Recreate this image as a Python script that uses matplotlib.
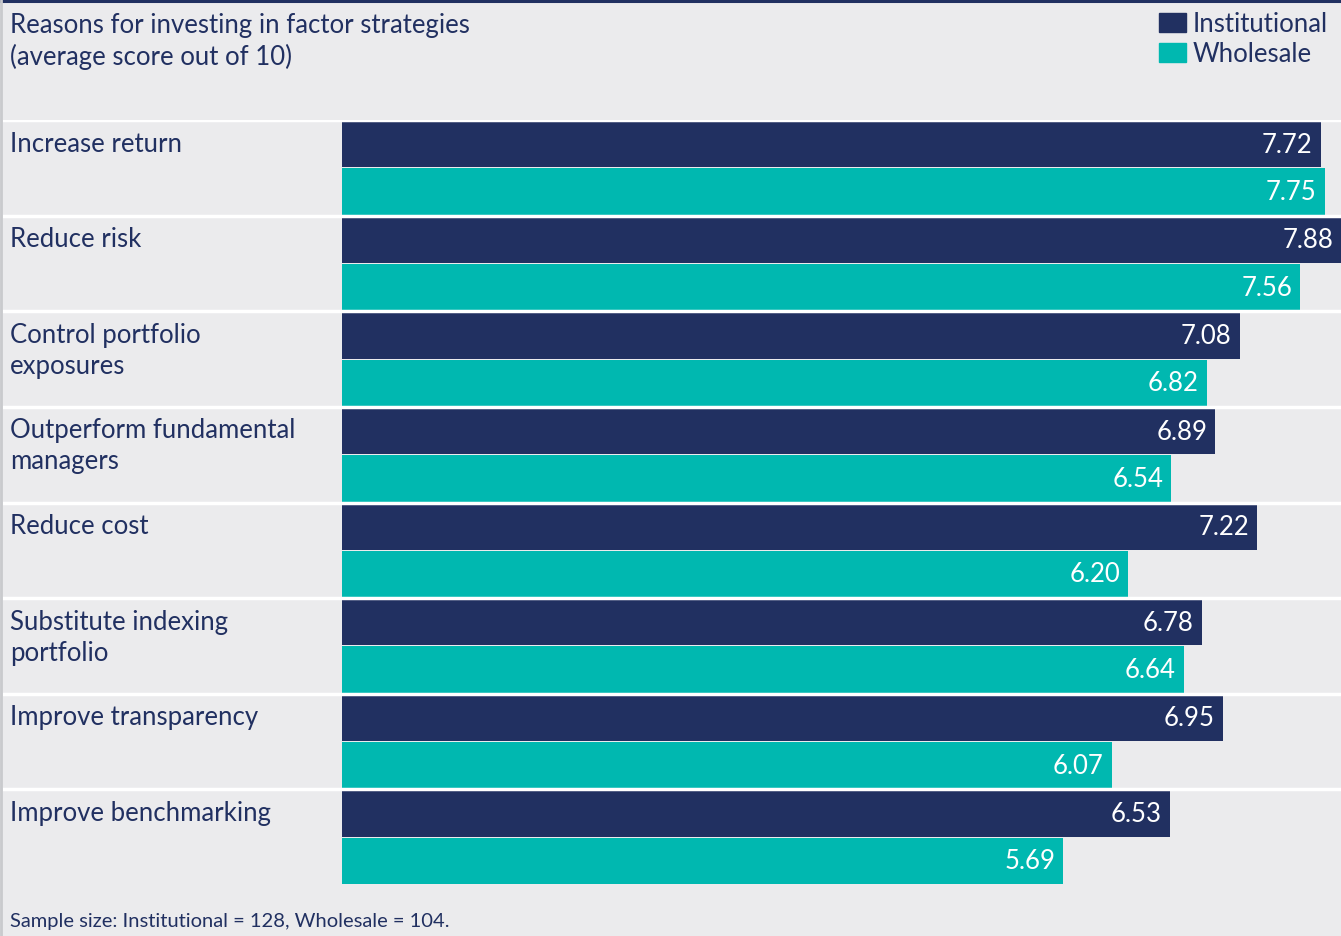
import numpy as np
import matplotlib.pyplot as plt
from matplotlib.patches import Rectangle

categories = ["Increase return", "Reduce risk", "Control portfolio\nexposures",
              "Outperform fundamental\nmanagers", "Reduce cost",
              "Substitute indexing\nportfolio", "Improve transparency",
              "Improve benchmarking"]
institutional = [7.72, 7.88, 7.08, 6.89, 7.22, 6.78, 6.95, 6.53]
wholesale = [7.75, 7.56, 6.82, 6.54, 6.20, 6.64, 6.07, 5.69]
series_names = ["Institutional", "Wholesale"]

NAVY = "#213061"
TEAL = "#00b8b0"
BG = "#ebebed"
FONT = "Lato"
WT = "normal"
FS = 18.5

W, H = 1341, 937
fig = plt.figure(figsize=(W / 100, H / 100), dpi=100, facecolor=BG)

# frame lines round the panel
fig.add_artist(plt.Line2D([0, 1], [1 - 2 / H, 1 - 2 / H], color=NAVY, lw=2.2))
fig.add_artist(plt.Line2D([1 / W, 1 / W], [0, 1], color="#c9cacd", lw=2))

# axes from x=3px to right edge, y from 121px to 886px
x0, x1 = 3, 1341
y_top, y_bot = 121, 886
ax = fig.add_axes([x0 / W, 1 - y_bot / H, (x1 - x0) / W, (y_bot - y_top) / H])
ax.set_facecolor("none")
for s in ax.spines.values():
    s.set_visible(False)
ax.set_xticks([])
ax.set_yticks([])

xmax = max(institutional)
k = (1341 - 342) / xmax
ax.set_xlim(-(342 - x0) / k, xmax)
n = len(categories)
ax.set_ylim(n - 0.5, -0.5)

y = np.arange(n)
h = 0.485
ax.barh(y - h / 2 - 0.005, institutional, height=h, color=NAVY, zorder=2)
ax.barh(y + h / 2 + 0.005, wholesale, height=h, color=TEAL, zorder=2)

for i in range(n):
    ax.axhline(i - 0.5, color="white", lw=2.5, zorder=3)
    ax.text(-(342 - 10) / k, i - 0.5 + 0.11, categories[i], ha="left", va="top",
            fontsize=FS, color=NAVY, family=FONT, weight=WT, linespacing=1.3)
    ax.text(institutional[i] - 8 / k, i - h / 2 - 0.005, f"{institutional[i]:.2f}",
            ha="right", va="center", color="white", fontsize=FS, family=FONT,
            weight=WT, zorder=4)
    ax.text(wholesale[i] - 8 / k, i + h / 2 + 0.005, f"{wholesale[i]:.2f}",
            ha="right", va="center", color="white", fontsize=FS, family=FONT,
            weight=WT, zorder=4)

fig.text(10 / W, 1 - 13 / H, "Reasons for investing in factor strategies\n(average score out of 10)",
         ha="left", va="top", fontsize=FS, color=NAVY, family=FONT, weight=WT,
         linespacing=1.3)

# legend
for j, (name, col) in enumerate(zip(series_names, [NAVY, TEAL])):
    top = 14 + j * 30
    fig.add_artist(Rectangle((1159 / W, 1 - (top + 19) / H), 27 / W, 19 / H,
                             color=col, transform=fig.transFigure))
    fig.text(1193 / W, 1 - (top + 10) / H, name, ha="left", va="center",
             fontsize=FS, color=NAVY, family=FONT, weight=WT)

fig.text(10 / W, 1 - 922 / H, "Sample size: Institutional = 128, Wholesale = 104.",
         ha="left", va="center", fontsize=14.5, color=NAVY, family=FONT, weight=WT)

fig.savefig("out.png", dpi=100, facecolor=BG)
